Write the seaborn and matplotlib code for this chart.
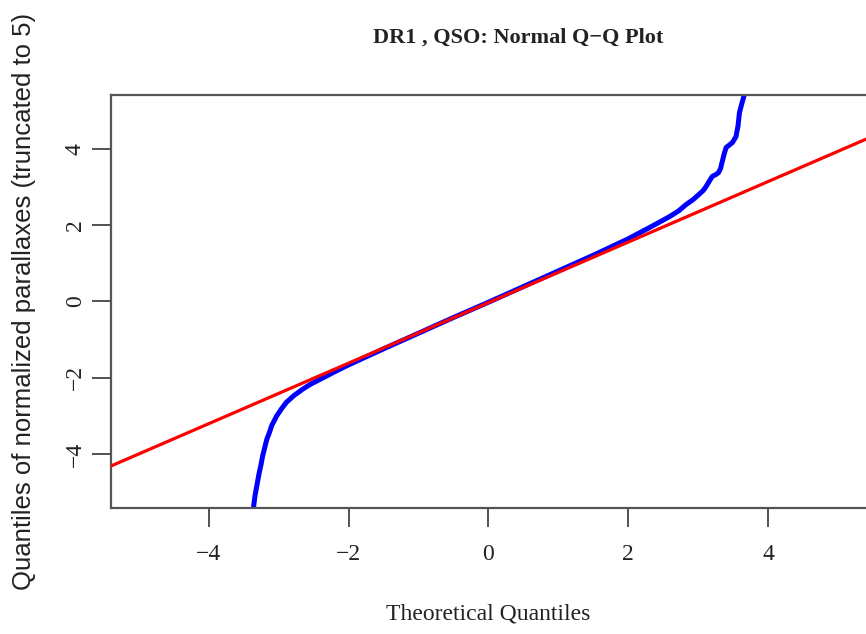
import matplotlib
matplotlib.use("Agg")
import matplotlib.pyplot as plt
import seaborn as sns
import pandas as pd

# Theoretical normal quantiles and the matching sorted sample quantiles
theoretical = [-3.38, -3.36, -3.34, -3.31, -3.28, -3.25, -3.23, -3.20, -3.17,
               -3.13, -3.10, -3.06, -3.03, -2.96, -2.89, -2.78, -2.66, -2.54,
               -2.41, -2.20, -2.00, -1.50, -1.00, -0.50, 0.00, 0.50, 1.00,
               1.50, 2.00, 2.30, 2.59, 2.72, 2.83, 2.93, 3.01, 3.07, 3.11,
               3.16, 3.20, 3.26, 3.29, 3.32, 3.34, 3.37, 3.40, 3.45, 3.49,
               3.54, 3.57, 3.59, 3.62, 3.66, 3.70]
sample = [-5.80, -5.40, -5.10, -4.80, -4.50, -4.25, -4.05, -3.83, -3.61,
          -3.42, -3.25, -3.11, -3.00, -2.81, -2.64, -2.46, -2.30, -2.16,
          -2.04, -1.84, -1.66, -1.24, -0.83, -0.42, -0.02, 0.39, 0.80,
          1.21, 1.64, 1.93, 2.22, 2.37, 2.54, 2.67, 2.80, 2.90, 3.00,
          3.15, 3.27, 3.33, 3.37, 3.48, 3.63, 3.85, 4.03, 4.10, 4.16,
          4.31, 4.60, 4.94, 5.15, 5.41, 5.80]

# Reference line through the quartiles
line_intercept = -0.03
line_slope = 0.792

x_ticks = [-4, -2, 0, 2, 4]
y_ticks = [-4, -2, 0, 2, 4]
axis_limit = 5.4

sns.set_theme(style="white")
serif = ["Liberation Serif", "DejaVu Serif"]

fig = plt.figure(figsize=(8.66, 6.34), dpi=100)
ax = fig.add_axes([0.128, 0.199, 0.872, 0.651])

df = pd.DataFrame({"theoretical": theoretical, "sample": sample})
sns.lineplot(data=df, x="theoretical", y="sample", sort=False, estimator=None,
             color="#0000ff", linewidth=3.6, ax=ax, zorder=2)
ax.axline((0, line_intercept), slope=line_slope, color="#ff0000",
          linewidth=2.3, zorder=3)

ax.set_xlim(-axis_limit, axis_limit)
ax.set_ylim(-axis_limit, axis_limit)
ax.set_xticks(x_ticks)
ax.set_yticks(y_ticks)
ax.set_xticklabels(["\u2212" + str(-t) if t < 0 else str(t) for t in x_ticks],
                   fontfamily=serif, fontsize=17)
ax.set_yticklabels(["\u2212" + str(-t) if t < 0 else str(t) for t in y_ticks],
                   fontfamily=serif, fontsize=17, rotation=90, va="center")
ax.tick_params(axis="both", direction="out", length=14, width=1.3,
               color="#444444", labelcolor="#222222", bottom=True, left=True)
ax.tick_params(axis="x", pad=12)
ax.tick_params(axis="y", pad=4)

for side in ["left", "top", "bottom"]:
    ax.spines[side].set_color("#555555")
    ax.spines[side].set_linewidth(1.6)
ax.spines["right"].set_visible(False)

ax.set_xlabel("Theoretical Quantiles", fontfamily=serif, fontsize=17,
              color="#222222", labelpad=28)
ax.set_ylabel("Quantiles of normalized parallaxes (truncated to 5)",
              fontfamily=["Liberation Sans", "DejaVu Sans"], fontsize=18.5,
              color="#222222", labelpad=21)
fig.text(0.598, 0.94, "DR1 , QSO: Normal Q\u2212Q Plot", ha="center",
         va="center", fontfamily=serif, fontweight="bold", fontsize=16,
         color="#222222")

fig.savefig("out.png", dpi=100)
